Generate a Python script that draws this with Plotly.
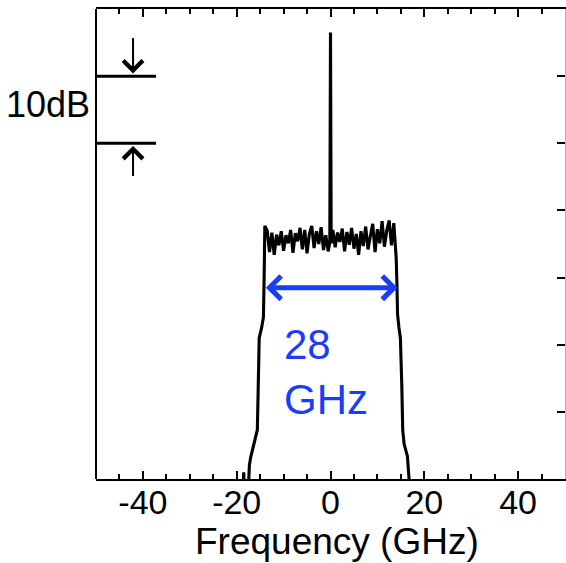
import plotly.graph_objects as go

# ---- data ----
left_freq = [-19.5, -18.7, -18.5, -18.3, -17.6, -17.3, -17.0, -16.6, -16.2, -15.6, -15.4, -15.2, -14.7, -14.3, -14.15]
left_db = [-73.0, -72.0, -69.0, -73.0, -73.0, -68.0, -66.7, -65.5, -64.2, -62.7, -56.0, -49.0, -47.5, -45.9, -40.0]

plateau_freq = [-14.0, -13.5, -13.0, -12.5, -12.0, -11.5, -11.0, -10.5, -10.0, -9.5,
                -9.0, -8.5, -8.0, -7.5, -7.0, -6.5, -6.0, -5.5, -5.0, -4.5,
                -4.0, -3.5, -3.0, -2.5, -2.0, -1.5, -1.0, -0.5, -0.15, 0.0,
                0.15, 0.5, 1.0, 1.5, 2.0, 2.5, 3.0, 3.5, 4.0, 4.5,
                5.0, 5.5, 6.0, 6.5, 7.0, 7.5, 8.0, 8.5, 9.0, 9.5,
                10.0, 10.5, 11.0, 11.5, 12.0, 12.5, 13.0, 13.5, 14.0]
plateau_db = [-32.3, -33.0, -36.2, -33.3, -36.6, -33.6, -35.2, -33.1, -36.0, -33.7,
              -34.9, -32.9, -36.3, -33.4, -34.6, -32.6, -35.8, -32.9, -36.4, -33.5,
              -32.3, -35.6, -33.1, -35.0, -32.5, -35.9, -33.7, -36.1, -34.8, -3.5,
              -34.9, -32.9, -35.5, -33.3, -34.7, -32.7, -36.1, -33.2, -35.1, -32.6,
              -35.7, -33.5, -36.6, -33.1, -35.3, -32.4, -35.8, -33.8, -32.0, -36.2,
              -32.8, -34.9, -31.6, -35.4, -33.0, -31.5, -35.2, -31.9, -37.0]

right_freq = [14.15, 14.3, 14.6, 14.9, 15.2, 15.4, 15.7, 16.1, 16.4, 16.8, 17.5]
right_db = [-40.5, -45.5, -47.5, -49.0, -56.0, -62.7, -64.8, -66.0, -66.6, -70.5, -73.0]

x_ticks = [-40, -20, 0, 20, 40]
x_tick_text = ["-40", "-20", "0", "20", "40"]
x_range = [-50, 50]
y_range = [-70, 0]

x_title = "Frequency (GHz)"
bandwidth_label = "28<br>GHz"
scale_label = "10dB"
scale_levels = [-10, -20]

freq = left_freq + plateau_freq + right_freq
power = left_db + plateau_db + right_db

FONT = "Liberation Sans, Arial, sans-serif"
BLUE = "#1a3cff"

W, H = 566, 563
L, R, T, B = 96, 1, 9, 84
pw, ph = W - L - R, H - T - B


def px_x(p):
    return (p - L) / pw


def px_y(p):
    return (H - B - p) / ph


fig = go.Figure()
fig.add_trace(go.Scatter(x=freq, y=power, mode="lines",
                         line=dict(color="black", width=3.1), showlegend=False))

for lv in scale_levels:
    fig.add_shape(type="line", xref="x", yref="y", x0=-50, x1=-37.2, y0=lv, y1=lv,
                  line=dict(color="black", width=3))

fig.add_shape(type="line", xref="paper", yref="paper", x0=0, x1=0, y0=0, y1=1,
              line=dict(color="black", width=2))

ann = []
ann.append(dict(x=-42.1, y=-9.6, ax=-42.1, ay=-4.1, xref="x", yref="y", axref="x", ayref="y",
                text="", showarrow=True, arrowhead=4, arrowsize=1.9, arrowwidth=2, arrowcolor="black"))
ann.append(dict(x=-42.1, y=-20.4, ax=-42.1, ay=-25.1, xref="x", yref="y", axref="x", ayref="y",
                text="", showarrow=True, arrowhead=4, arrowsize=1.9, arrowwidth=2, arrowcolor="black"))
ann.append(dict(x=14.3, y=-41.5, ax=-14.1, ay=-41.5, xref="x", yref="y", axref="x", ayref="y",
                text="", showarrow=True, arrowhead=4, startarrowhead=4, arrowside="end+start",
                arrowsize=0.9, startarrowsize=0.9, arrowwidth=5, arrowcolor=BLUE))
ann.append(dict(x=-10.3, y=-54.0, xref="x", yref="y", text=bandwidth_label, showarrow=False,
                xanchor="left", yanchor="middle", align="left",
                font=dict(family=FONT, size=42, color=BLUE)))
ann.append(dict(x=px_x(92), y=px_y(105), xref="paper", yref="paper", text=scale_label,
                showarrow=False, xanchor="right", yanchor="middle",
                font=dict(family=FONT, size=36, color="black")))
ann.append(dict(x=px_x(337), y=px_y(541), xref="paper", yref="paper", text=x_title,
                showarrow=False, xanchor="center", yanchor="middle",
                font=dict(family=FONT, size=37, color="black")))

fig.update_layout(
    width=W, height=H,
    margin=dict(l=L, r=R, t=T, b=B, autoexpand=False),
    paper_bgcolor="white", plot_bgcolor="white",
    font=dict(family=FONT, color="black"),
    annotations=ann,
    xaxis=dict(range=x_range, tickvals=x_ticks, ticktext=x_tick_text, ticks="inside",
               ticklen=8, tickwidth=2, automargin=False, ticklabelstandoff=-8,
               tickcolor="black", showline=True, linecolor="black", linewidth=2,
               mirror="allticks", showgrid=False, zeroline=False,
               tickfont=dict(family=FONT, size=34, color="black"),
               minor=dict(dtick=5, tick0=0, ticks="inside", ticklen=5, tickwidth=1.5,
                          tickcolor="black", showgrid=False)),
    yaxis=dict(range=y_range, side="right", dtick=10, tick0=0, ticks="inside", ticklen=8,
               tickwidth=2, tickcolor="black", showline=True, linecolor="#b0b0b0", linewidth=1,
               automargin=False, showticklabels=False, showgrid=False, zeroline=False),
)

# remove the default 8px page margin so the figure fills the window exactly
fig.write_html("out.html",
               config={"displayModeBar": False},
               post_script="document.body.style.margin='0px';document.body.style.overflow='hidden';")
